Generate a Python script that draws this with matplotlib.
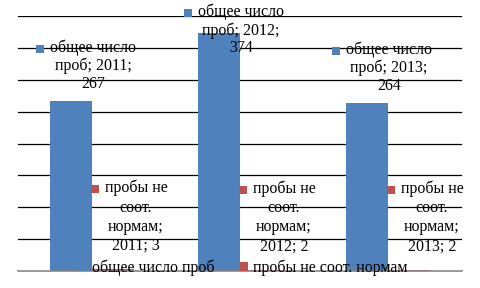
import matplotlib
matplotlib.use("Agg")
import matplotlib.pyplot as plt
import numpy as np

years = ["2011", "2012", "2013"]
total = [267, 374, 264]
bad = [3, 2, 2]
name_total = "общее число проб"
name_bad = "пробы не соот. нормам"
lbl_total = "общее число\nпроб; {y};\n{v}"
lbl_bad = "пробы не\nсоот.\nнормам;\n{y}; {v}"

BLUE = "#4F81BD"
RED = "#C0504D"
FS = 11.5
plt.rcParams["font.family"] = ["Liberation Serif", "DejaVu Serif"]

W, H, DPI = 4.81, 2.88, 100
fig = plt.figure(figsize=(W, H), dpi=DPI)
ax = fig.add_axes([18 / 481, 17 / 288, 444 / 481, 255 / 288])

x = np.arange(len(years))
w = 0.284
b1 = ax.bar(x - w / 2, total, w, color=BLUE, zorder=2, label=name_total)
b2 = ax.bar(x + w / 2, bad, w, color=RED, zorder=2, label=name_bad)

ax.set_xlim(-0.5, len(years) - 0.5)
ax.set_ylim(0, 400)
ax.set_yticks(np.arange(50, 401, 50))
ax.yaxis.grid(True, color="black", lw=0.9, zorder=1)
ax.set_axisbelow(True)
ax.tick_params(left=False, bottom=False, labelleft=False, labelbottom=False)
for s in ["left", "right", "top"]:
    ax.spines[s].set_visible(False)
ax.spines["bottom"].set_color("#868686")
ax.spines["bottom"].set_linewidth(1.2)

labels = []
for i, (y, v) in enumerate(zip(years, total)):
    t = ax.annotate(lbl_total.format(y=y, v=v), (x[i], v), xytext=(1, 9),
                    textcoords="offset pixels", ha="center", va="bottom",
                    fontsize=FS, linespacing=1.13, zorder=5, annotation_clip=False)
    labels.append((t, BLUE))
for i, (y, v) in enumerate(zip(years, bad)):
    t = ax.annotate(lbl_bad.format(y=y, v=v), (x[i] + w / 2, v), xytext=(23, 15),
                    textcoords="offset pixels", ha="center", va="bottom",
                    fontsize=FS, linespacing=1.27, zorder=5, annotation_clip=False)
    labels.append((t, RED))

leg = fig.legend(handles=[b1, b2], loc="center", bbox_to_anchor=(243 / 481, 1 - 268 / 288),
                 ncol=2, frameon=False, fontsize=FS, handlelength=0.5, handleheight=0.5,
                 handletextpad=0.3, columnspacing=1.6, borderpad=0, borderaxespad=0)

fig.canvas.draw()
r = fig.canvas.get_renderer()
figh = H * DPI
for t, c in labels:
    bb = t.get_window_extent(r)
    if bb.y1 > figh - 4:
        dy = bb.y1 - (figh - 4)
        ox, oy = t.xyann
        t.xyann = (ox, oy - dy)
        fig.canvas.draw()
        bb = t.get_window_extent(r)
    sx = bb.x0 - 6 - 3.5
    sy = bb.y1 - 9
    ax.plot([sx / (W * DPI)], [sy / figh], marker="s", ms=5.3, color=c, mec=c, mew=0,
            transform=fig.transFigure, clip_on=False, zorder=6, ls="none")

fig.savefig("out.png", dpi=DPI)
